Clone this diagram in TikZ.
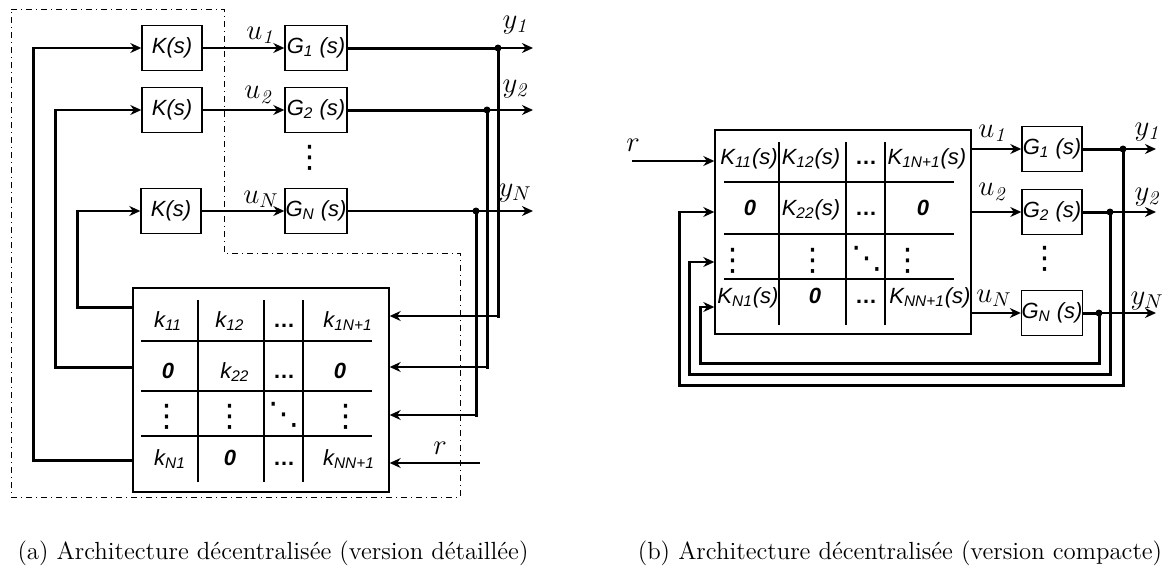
\documentclass[tikz,border=0pt]{standalone}
\usepackage{fontspec}
\newfontfamily\blocfont{Liberation Sans}
\newfontfamily\symbfont{DejaVu Sans}
\usetikzlibrary{arrows.meta}

\tikzset{
  bloc/.style={draw, line width=0.7pt, minimum width=30pt, minimum height=22.5pt, inner sep=0pt,
    font=\blocfont\itshape\fontsize{11}{13}\selectfont},
  matrice/.style={draw, line width=0.7pt, minimum width=128pt, minimum height=102pt, inner sep=0pt},
  cellule/.style={inner sep=0pt, anchor=base, font=\blocfont\itshape\fontsize{11}{13}\selectfont},
  zero/.style={cellule, font=\blocfont\bfseries\itshape\fontsize{11}{13}\selectfont},
  suite/.style={inner sep=0pt, anchor=base, font=\blocfont\bfseries\fontsize{11}{13}\selectfont},
  points/.style={inner sep=0pt, font=\symbfont\fontsize{15.5}{17}\selectfont},
  signal/.style={inner sep=0pt, font=\fontsize{14}{16}\selectfont},
  fleche/.style={line width=0.8pt, -{Stealth[length=5.5pt,width=5pt]}},
  retour/.style={line width=1.5pt, line cap=rect},
  grille/.style={line width=0.9pt},
  cadre/.style={line width=0.5pt, dash dot},
  legende/.style={inner sep=0pt, font=\fontsize{12.4}{14}\selectfont},
}

\begin{document}
\begin{tikzpicture}[x=0.5pt,y=-0.5pt]
    \useasboundingbox (0,0) rectangle (1175,574);

    % ---------- (a) version detaillee ----------
    % blocs K et G
    \node[bloc] (K1) at (172,48) {K(s)};
    \node[bloc] (K2) at (172,110) {K(s)};
    \node[bloc] (KN) at (171,211) {K(s)};
    \node[bloc, minimum width=31pt] (G1) at (316,48) {G\textsubscript{1} (s)};
    \node[bloc, minimum width=31pt] (G2) at (316,110) {G\textsubscript{2} (s)};
    \node[bloc, minimum width=31pt] (GN) at (316,211) {G\textsubscript{N} (s)};
    \node[points] (vGa) at (310,158) {⋮};

    % matrice des gains
    \node[matrice] (Ma) at (261,390) {};
    \foreach \x in {198,264,303} \draw[grille] (\x,300) -- (\x,482);
    \foreach \y in {341,391,436} \draw[grille] (141,\y) -- (372,\y);

    \node[cellule] (a11) at (168,327) {k\textsubscript{11}};
    \node[cellule] (a12) at (230,327) {k\textsubscript{12}};
    \node[suite]   (a13) at (284,327) {…};
    \node[cellule] (a14) at (348,327) {k\textsubscript{1N+1}};
    \node[zero]    (a21) at (168,378) {0};
    \node[cellule] (a22) at (235,378) {k\textsubscript{22}};
    \node[suite]   (a23) at (284,378) {…};
    \node[zero]    (a24) at (340,378) {0};
    \node[points]  (a31) at (167,417) {⋮};
    \node[points]  (a32) at (230,417) {⋮};
    \node[points]  (a33) at (284,415) {⋱};
    \node[points]  (a34) at (346,417) {⋮};
    \node[cellule] (a41) at (170,465) {k\textsubscript{N1}};
    \node[zero]    (a42) at (230,465) {0};
    \node[suite]   (a43) at (284,465) {…};
    \node[cellule] (a44) at (349,465) {k\textsubscript{NN+1}};

    % commandes u
    \draw[fleche] (K1) -- (G1);
    \draw[fleche] (K2) -- (G2);
    \draw[fleche] (KN) -- (GN);
    \node[signal] (u1a) at (260,35) {$u_{\mathit{1}}$};
    \node[signal] (u2a) at (258,95) {$u_{\mathit{2}}$};
    \node[signal] (uNa) at (261,199) {$u_N$};

    % retours vers les K
    \coordinate (b1) at (33,460);
    \coordinate (b2) at (55,367);
    \coordinate (bN) at (77,307);
    \draw[retour] (Ma.west |- b1) -- (b1) -- (b1 |- K1);
    \draw[retour] (Ma.west |- b2) -- (b2) -- (b2 |- K2);
    \draw[retour] (Ma.west |- bN) -- (bN) -- (bN |- KN);
    \draw[fleche] (b1 |- K1) -- (K1.west);
    \draw[fleche] (b2 |- K2) -- (K2.west);
    \draw[fleche] (bN |- KN) -- (KN.west);

    % sorties y
    \coordinate (p1) at (498,48);
    \coordinate (p2) at (487,110);
    \coordinate (pN) at (476,211);
    \coordinate (s1) at (533,48);
    \coordinate (s2) at (533,110);
    \coordinate (sN) at (533,211);
    \draw[retour] (G1) -- (p1);
    \draw[retour] (G2) -- (p2);
    \draw[line width=0.8pt] (GN) -- (pN);
    \draw[fleche] (p1) -- (s1);
    \draw[fleche] (p2) -- (s2);
    \draw[fleche] (pN) -- (sN);
    \node[signal] (y1a) at (515,25) {$y_{\mathit{1}}$};
    \node[signal] (y2a) at (515,89) {$y_{\mathit{2}}$};
    \node[signal] (yNa) at (515,193) {$y_N$};

    % retours vers la matrice
    \coordinate (e1) at (498,316);
    \coordinate (e2) at (487,367);
    \coordinate (eN) at (476,415);
    \draw[retour] (p1) -- (e1);
    \draw[retour] (p2) -- (e2);
    \draw[retour] (pN) -- (eN);
    \draw[fleche] (e1) -- (Ma.east |- e1);
    \draw[fleche] (e2) -- (Ma.east |- e2);
    \draw[fleche] (eN) -- (Ma.east |- eN);
    \coordinate (ra) at (480,463);
    \draw[fleche] (ra) -- (Ma.east |- ra);
    \node[signal] (ria) at (440,448) {$r$};
    \foreach \p in {p1,p2,pN} \fill (\p) circle (1.75pt);

    % cadre du correcteur
    \draw[cadre] (11,9) -- (224,9) -- (224,253) -- (460,253) -- (460,497) -- (11,497) -- cycle;

    % ---------- (b) version compacte ----------
    \node[matrice] (Mb) at (843,232) {};
    \foreach \x in {779,846,885} \draw[grille] (\x,142) -- (\x,325);
    \foreach \y in {182,234,279} \draw[grille] (724,\y) -- (954,\y);

    \node[cellule] (b11) at (749,164) {K\textsubscript{11}(s)};
    \node[cellule] (b12) at (811,164) {K\textsubscript{12}(s)};
    \node[suite]   (b13) at (866,164) {…};
    \node[cellule] (b14) at (927,164) {K\textsubscript{1N+1}(s)};
    \node[zero]    (b21) at (750,215) {0};
    \node[cellule] (b22) at (811,215) {K\textsubscript{22}(s)};
    \node[suite]   (b23) at (866,215) {…};
    \node[zero]    (b24) at (923,215) {0};
    \node[points]  (b31) at (733,261) {⋮};
    \node[points]  (b32) at (813,261) {⋮};
    \node[points]  (b33) at (867,259) {⋱};
    \node[points]  (b34) at (908,261) {⋮};
    \node[cellule] (b41) at (748,303) {K\textsubscript{N1}(s)};
    \node[zero]    (b42) at (815,303) {0};
    \node[suite]   (b43) at (866,303) {…};
    \node[cellule] (b44) at (930,303) {K\textsubscript{NN+1}(s)};

    % blocs G
    \node[bloc] (Gb1) at (1052,149) {G\textsubscript{1} (s)};
    \node[bloc] (Gb2) at (1052,212) {G\textsubscript{2} (s)};
    \node[bloc] (GbN) at (1052,313) {G\textsubscript{N} (s)};
    \node[points] (vGb) at (1045,259) {⋮};

    % commandes u
    \draw[fleche] (Mb.east |- Gb1) -- (Gb1.west);
    \draw[fleche] (Mb.east |- Gb2) -- (Gb2.west);
    \draw[fleche] (Mb.east |- GbN) -- (GbN.west);
    \node[signal] (u1b) at (992,133) {$u_{\mathit{1}}$};
    \node[signal] (u2b) at (992,192) {$u_{\mathit{2}}$};
    \node[signal] (uNb) at (994,298) {$u_N$};

    % sorties y
    \coordinate (q1) at (1123,149);
    \coordinate (q2) at (1110,212);
    \coordinate (qN) at (1099,313);
    \coordinate (t1) at (1156,149);
    \coordinate (t2) at (1156,212);
    \coordinate (tN) at (1156,313);
    \draw[retour] (Gb1) -- (q1);
    \draw[retour] (Gb2) -- (q2);
    \draw[retour] (GbN) -- (qN);
    \draw[fleche] (q1) -- (t1);
    \draw[fleche] (q2) -- (t2);
    \draw[fleche] (qN) -- (tN);
    \node[signal] (y1b) at (1147,132) {$y_{\mathit{1}}$};
    \node[signal] (y2b) at (1147,197) {$y_{\mathit{2}}$};
    \node[signal] (yNb) at (1147,301) {$y_N$};

    % boucles de retour
    \coordinate (f1) at (679,385);
    \coordinate (f2) at (689,374);
    \coordinate (fN) at (700,363);
    \coordinate (h1) at (679,212);
    \coordinate (h2) at (689,262);
    \coordinate (hN) at (700,307);
    \draw[retour] (q1) |- (f1) -- (h1);
    \draw[retour] (q2) |- (f2) -- (h2);
    \draw[retour] (qN) |- (fN) -- (hN);
    \draw[fleche] (h1) -- (Mb.west |- h1);
    \draw[fleche] (h2) -- (Mb.west |- h2);
    \draw[fleche] (hN) -- (Mb.west |- hN);
    \coordinate (rb) at (632,161);
    \draw[fleche] (rb) -- (Mb.west |- rb);
    \node[signal] (rib) at (633,145) {$r$};
    \foreach \q in {q1,q2,qN} \fill (\q) circle (1.75pt);

    % legendes
    \node[legende] (capa) at (273,553) {(a) Architecture décentralisée (version détaillée)};
    \node[legende] (capb) at (900,553) {(b) Architecture décentralisée (version compacte)};

\end{tikzpicture}
\end{document}
